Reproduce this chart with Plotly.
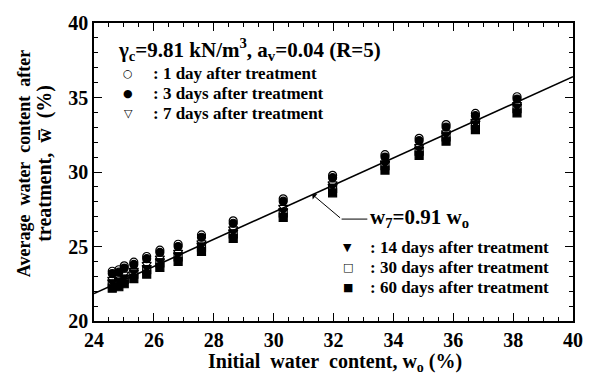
import plotly.graph_objects as go

# ---- data ----
w0 = [24.61, 24.83, 25.01, 25.33, 25.76, 26.20, 26.81, 27.59, 28.65, 30.32,
      31.97, 33.72, 34.86, 35.76, 36.74, 38.13]
day1 = [23.34, 23.44, 23.70, 23.95, 24.33, 24.75, 25.15, 25.78, 26.72, 28.20,
        29.78, 31.16, 32.26, 33.18, 33.93, 35.05]
day3 = [23.18, 23.28, 23.55, 23.80, 24.18, 24.60, 25.00, 25.62, 26.56, 28.04,
        29.62, 31.00, 32.10, 33.02, 33.78, 34.90]
day7 = [22.80, 22.90, 23.15, 23.40, 23.80, 24.22, 24.60, 25.25, 26.18, 27.62,
        29.20, 30.62, 31.70, 32.62, 33.40, 34.52]
day14 = [22.62, 22.74, 22.94, 23.28, 23.58, 24.04, 24.44, 25.10, 25.98, 27.40,
         29.04, 30.56, 31.54, 32.50, 33.28, 34.40]
day30 = [22.48, 22.60, 22.80, 23.14, 23.44, 23.90, 24.30, 24.96, 25.84, 27.26,
         28.90, 30.42, 31.40, 32.36, 33.14, 34.26]
day60 = [22.20, 22.30, 22.50, 22.85, 23.15, 23.60, 24.00, 24.67, 25.54, 26.96,
         28.60, 30.13, 31.11, 32.07, 32.85, 33.97]

fit_slope = 0.91
line_x = [24, 40]
line_y = [fit_slope * v for v in line_x]

FONT = "Liberation Serif, Times New Roman, serif"
SYMFONT = "DejaVu Sans"

# (values, plot symbol, legend glyph, label, legend block)
series = [
    (day1, "circle-open", "\u25cb", ": 1 day after treatment", 0),
    (day3, "circle", "\u25cf", ": 3 days after treatment", 0),
    (day7, "triangle-down-open", "\u25bd", ": 7 days after treatment", 0),
    (day14, "triangle-down", "\u25bc", ": 14 days after treatment", 1),
    (day30, "square-open", "\u25a1", ": 30 days after treatment", 1),
    (day60, "square", "\u25a0", ": 60 days after treatment", 1),
]

fig = go.Figure()
fig.add_trace(go.Scatter(x=line_x, y=line_y, mode="lines",
                         line=dict(color="black", width=1.6), showlegend=False))
for vals, sym, glyph, name, blk in series:
    fig.add_trace(go.Scatter(
        x=w0, y=vals, mode="markers", name=name, showlegend=False,
        marker=dict(symbol=sym, size=8, color="black",
                    line=dict(color="black", width=1.2))))

# legend blocks drawn as text
legend_blocks = [
    dict(sym_x=0.0716, txt_x=0.1207, rows=[0.8311, 0.7639, 0.6967]),
    dict(sym_x=0.5297, txt_x=0.5746, rows=[0.2459, 0.1787, 0.1115]),
]
counters = [0, 0]
leg_font = dict(family=FONT, size=17, color="black", weight="bold")
for vals, sym, glyph, name, blk in series:
    b = legend_blocks[blk]
    yy = b["rows"][counters[blk]]
    counters[blk] += 1
    fig.add_annotation(xref="paper", yref="paper", x=b["sym_x"], y=yy,
                       xanchor="center", yanchor="middle", showarrow=False,
                       text=glyph, font=dict(family=SYMFONT, size=11, color="black"),
                       borderpad=0)
    fig.add_annotation(xref="paper", yref="paper", x=b["txt_x"], y=yy,
                       xanchor="left", yanchor="middle", showarrow=False,
                       text=name, font=leg_font, borderpad=0)

# leader line for fit label
fig.add_shape(type="line", x0=32.27, y0=26.84, x1=33.13, y1=26.84,
              line=dict(color="black", width=1))
fig.add_annotation(x=31.29, y=28.50, ax=32.27, ay=26.84, axref="x", ayref="y",
                   xref="x", yref="y", text="", showarrow=True,
                   arrowhead=1, arrowsize=1.2, arrowwidth=1, arrowcolor="black")

ann_font = dict(family=FONT, size=21, color="black", weight="bold")
fig.add_annotation(xref="paper", yref="paper", x=0.575, y=0.345,
                   xanchor="left", yanchor="middle", showarrow=False,
                   text="w<sub>7</sub>=0.91 w<sub>o</sub>", font=ann_font, borderpad=0)
fig.add_annotation(xref="paper", yref="paper", x=0.047, y=0.91,
                   xanchor="left", yanchor="middle", showarrow=False,
                   text="γ<sub>c</sub>=9.81 kN/m<sup>3</sup>, a<sub>v</sub>=0.04 (R=5)",
                   font=ann_font, borderpad=0)
# y axis title (two lines)
fig.add_annotation(xref="paper", yref="paper", x=-0.147, y=0.528,
                   xanchor="center", yanchor="middle", showarrow=False,
                   textangle=-90,
                   text="Average\u00a0\u00a0water\u00a0\u00a0content\u00a0\u00a0after",
                   font=dict(family=FONT, size=18, color="black", weight="bold"))
fig.add_annotation(xref="paper", yref="paper", x=-0.102, y=0.528,
                   xanchor="center", yanchor="middle", showarrow=False,
                   textangle=-90,
                   text="treatment,\u00a0\u00a0w\u0305\u00a0\u00a0(%)",
                   font=dict(family=FONT, size=20, color="black", weight="bold"))
# x axis title
fig.add_annotation(xref="paper", yref="paper", x=0.503, y=-0.138,
                   xanchor="center", yanchor="middle", showarrow=False,
                   text="Initial\u00a0\u00a0water\u00a0\u00a0content,\u00a0w<sub>o</sub> (%)",
                   font=dict(family=FONT, size=20, color="black", weight="bold"))

axis_common = dict(showline=True, linecolor="black", linewidth=1.6, mirror="allticks",
                   ticks="inside", ticklen=8, tickwidth=1.2, tickcolor="black",
                   showgrid=False, zeroline=False,
                   tickfont=dict(family=FONT, size=20, color="black", weight="bold"))
fig.update_xaxes(range=[24, 40], tick0=24, dtick=2,
                 minor=dict(dtick=0.5, ticks="inside", ticklen=4, tickcolor="black", tickwidth=1),
                 **axis_common)
fig.update_yaxes(range=[20, 40], tick0=20, dtick=5,
                 minor=dict(dtick=1, ticks="inside", ticklen=4, tickcolor="black", tickwidth=1),
                 **axis_common)

fig.update_layout(
    width=595, height=384,
    margin=dict(l=94, r=12, t=16, b=63),
    paper_bgcolor="white", plot_bgcolor="white",
    showlegend=False,
)

fig.write_html("out.html")
